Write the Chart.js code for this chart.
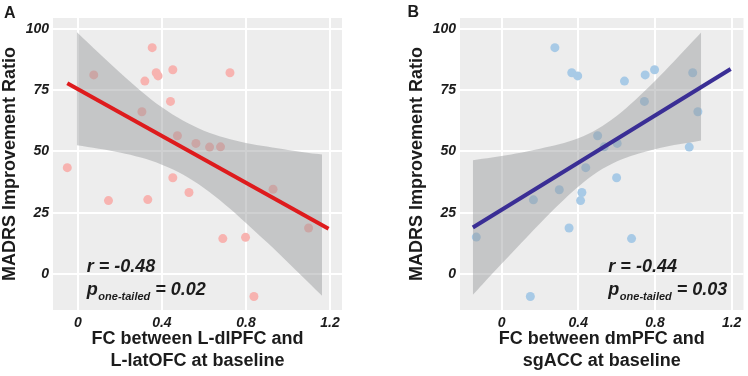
<!DOCTYPE html>
<html><head><meta charset="utf-8">
<script src="https://cdn.jsdelivr.net/npm/chart.js@4.4.1/dist/chart.umd.min.js"></script>
<style>
html,body{margin:0;padding:0;background:#fff;width:748px;height:376px;overflow:hidden;}
.wrap{position:absolute;top:0;height:376px;}
#wa{left:0;width:374px;}
#wb{left:407px;width:341px;}
canvas{display:block;}
</style></head><body>
<div class="wrap" id="wa"><canvas id="ca" width="374" height="376"></canvas></div>
<div class="wrap" id="wb"><canvas id="cb" width="341" height="376"></canvas></div>
<script>
// ---- Panel A data ----
const fcA    = [-0.05, 0.076, 0.354, 0.319, 0.373, 0.382, 0.452, 0.724, 0.305, 0.441, 0.474, 0.562, 0.627, 0.679, 0.452, 0.929, 0.146, 0.333, 0.529, 0.69, 0.798, 1.098, 0.838];
const madrsA = [43.4, 81.2, 92.3, 78.7, 82.1, 80.8, 83.3, 82.1, 66.2, 70.4, 56.4, 53.3, 51.8, 51.9, 39.3, 34.6, 30.0, 30.4, 33.3, 14.5, 15.0, 18.8, -9.1];
const fitAx  = [-0.05, 1.193];
const fitAy  = [77.8, 18.5];
const bandAx  = [-0.005, 0.1, 0.2, 0.3, 0.4, 0.5, 0.6, 0.7, 0.8, 0.9, 1.0, 1.1, 1.162];
const bandAhi = [98.7, 90.1, 82.2, 74.7, 68.0, 62.6, 58.5, 55.6, 53.5, 52.0, 50.6, 49.4, 48.8];
const bandAlo = [52.5, 51.1, 49.6, 47.5, 44.6, 40.6, 35.1, 28.4, 20.9, 13.0, 4.8, -3.6, -8.8];
const statsA = ['-0.48', '0.02'];
const xTitleA = ['FC between L-dlPFC and', 'L-latOFC at baseline'];

// ---- Panel B data ----
const fcB    = [0.278, 0.366, 0.397, 0.641, 0.749, 0.798, 0.997, 0.745, 1.024, 0.501, 0.535, 0.603, 0.979, 0.439, 0.6, 0.301, 0.166, 0.419, 0.412, 0.352, -0.132, 0.678, 0.15];
const madrsB = [92.3, 82.1, 80.8, 78.7, 81.2, 83.3, 82.1, 70.4, 66.2, 56.4, 51.9, 53.3, 51.8, 43.4, 39.3, 34.4, 30.3, 33.3, 30.0, 18.8, 15.1, 14.5, -9.1];
const fitBx  = [-0.15, 1.195];
const fitBy  = [19.0, 83.6];
const bandBx  = [-0.15, -0.1, 0, 0.1, 0.2, 0.3, 0.4, 0.5, 0.6, 0.7, 0.8, 0.9, 1.0, 1.041];
const bandBhi = [46.4, 47.0, 48.2, 49.5, 51.1, 52.9, 55.4, 59.2, 64.5, 71.2, 78.7, 86.8, 95.1, 98.5];
const bandBlo = [-8.4, -4.2, 4.2, 12.5, 20.7, 28.5, 35.6, 41.6, 45.9, 48.8, 50.9, 52.6, 53.9, 54.5];
const statsB = ['-0.44', '0.03'];
const xTitleB = ['FC between dmPFC and', 'sgACC at baseline'];

// ---- shared axes ----
const xTicks = [0, 0.4, 0.8, 1.2];
const xTickLabels = ['0', '0.4', '0.8', '1.2'];
const yTicks = [0, 25, 50, 75, 100];
const yTickLabels = ['0', '25', '50', '75', '100'];
const yTitle = 'MADRS Improvement Ratio';

const FAM = '"Liberation Sans", Arial, Helvetica, sans-serif';
const TXT = '#1c1c1c';
const pts = (xs, ys) => xs.map((x, i) => ({x: x, y: ys[i]}));

const panelPlugin = {
  id: 'panel',
  beforeDraw(chart, args, o) {
    const {ctx, chartArea: a} = chart;
    ctx.save();
    ctx.fillStyle = '#EDEDED';
    ctx.fillRect(a.left, a.top, a.right - a.left, a.bottom - a.top);
    ctx.restore();
  },
  afterDraw(chart, args, o) {
    const ctx = chart.ctx, xs = chart.scales.x, ys = chart.scales.y;
    ctx.save();
    ctx.fillStyle = TXT;
    ctx.textAlign = 'left';
    ctx.textBaseline = 'alphabetic';
    ctx.font = 'bold 16px ' + FAM;
    ctx.fillText(o.letter, o.letterX, o.letterY);
    const big = 'italic bold 18px ' + FAM;
    const small = 'italic bold 11px ' + FAM;
    const x0 = xs.getPixelForValue(o.annX);
    ctx.font = big;
    ctx.fillText('r = ' + o.stats[0], x0, ys.getPixelForValue(o.rY));
    const yp = ys.getPixelForValue(o.pY);
    ctx.fillText('p', x0, yp);
    let w = ctx.measureText('p').width + 0.5;
    ctx.font = small;
    ctx.fillText('one-tailed', x0 + w, yp + 5);
    w += ctx.measureText('one-tailed').width;
    ctx.font = big;
    ctx.fillText(' = ' + o.stats[1], x0 + w, yp);
    ctx.restore();
  }
};

function makeChart(id, d) {
  return new Chart(document.getElementById(id), {
    type: 'scatter',
    data: {
      datasets: [
        { data: pts(d.fx, d.fy), showLine: true, borderColor: d.lineColor, borderWidth: 4,
          pointRadius: 0, fill: false, order: 1, borderCapStyle: 'butt' },
        { data: pts(d.bx, d.bhi), showLine: true, borderWidth: 0, borderColor: 'rgba(0,0,0,0)',
          pointRadius: 0, tension: 0.35, fill: '+1', backgroundColor: 'rgba(148,151,154,0.45)', order: 2 },
        { data: pts(d.bx, d.blo), showLine: true, borderWidth: 0, borderColor: 'rgba(0,0,0,0)',
          pointRadius: 0, tension: 0.35, fill: false, order: 2 },
        { data: pts(d.px, d.py), pointRadius: 4.5, pointBackgroundColor: d.ptColor,
          pointBorderWidth: 0, pointBorderColor: d.ptColor, order: 3 }
      ]
    },
    options: {
      responsive: false, animation: false, devicePixelRatio: 1,
      layout: { padding: { left: 0, top: 18, right: d.padRight, bottom: 0 } },
      plugins: {
        legend: { display: false }, tooltip: { enabled: false },
        panel: d.panel
      },
      scales: {
        x: {
          type: 'linear', min: d.xmin, max: d.xmax,
          afterBuildTicks: s => { s.ticks = xTicks.map(v => ({value: v})); },
          afterFit: s => { s.height = 66; },
          grid: { color: '#FFFFFF', lineWidth: 2, drawTicks: false },
          border: { display: false },
          ticks: { autoSkip: false, maxRotation: 0, padding: 5, color: TXT,
                   font: { family: FAM, size: 14, weight: 'bold', style: 'italic' },
                   callback: (v, i) => xTickLabels[i] },
          title: { display: true, text: d.xTitle, color: TXT,
                   font: { family: FAM, size: 18, weight: 'bold', lineHeight: 1.222 },
                   padding: { top: 0, bottom: 4 } }
        },
        y: {
          type: 'linear', min: -14.6, max: 104.4,
          afterBuildTicks: s => { s.ticks = yTicks.map(v => ({value: v})); },
          afterFit: s => { s.width = 53; },
          grid: { color: '#FFFFFF', lineWidth: 2, drawTicks: false },
          border: { display: false },
          ticks: { autoSkip: false, padding: 4, color: TXT,
                   font: { family: FAM, size: 14, weight: 'bold', style: 'italic' },
                   callback: (v, i) => yTickLabels[i] },
          title: { display: true, text: yTitle, color: TXT,
                   font: { family: FAM, size: 18, weight: 'bold', lineHeight: 1.1 },
                   padding: { top: 0, bottom: 0 } }
        }
      }
    },
    plugins: [panelPlugin]
  });
}

makeChart('ca', {
  px: fcA, py: madrsA, fx: fitAx, fy: fitAy, bx: bandAx, bhi: bandAhi, blo: bandAlo,
  lineColor: '#DE1B1D', ptColor: '#F7B3B0', xmin: -0.118, xmax: 1.257, padRight: 32,
  xTitle: xTitleA,
  panel: { letter: 'A', letterX: 4, letterY: 17.5, stats: statsA, annX: 0.043, rY: 0.9, pY: -8.6 }
});
makeChart('cb', {
  px: fcB, py: madrsB, fx: fitBx, fy: fitBy, bx: bandBx, bhi: bandBhi, blo: bandBlo,
  lineColor: '#3A2E95', ptColor: '#A8CAE6', xmin: -0.217, xmax: 1.262, padRight: 0,
  xTitle: xTitleB,
  panel: { letter: 'B', letterX: 0.5, letterY: 17, stats: statsB, annX: 0.557, rY: 0.9, pY: -8.6 }
});
</script>
</body></html>
